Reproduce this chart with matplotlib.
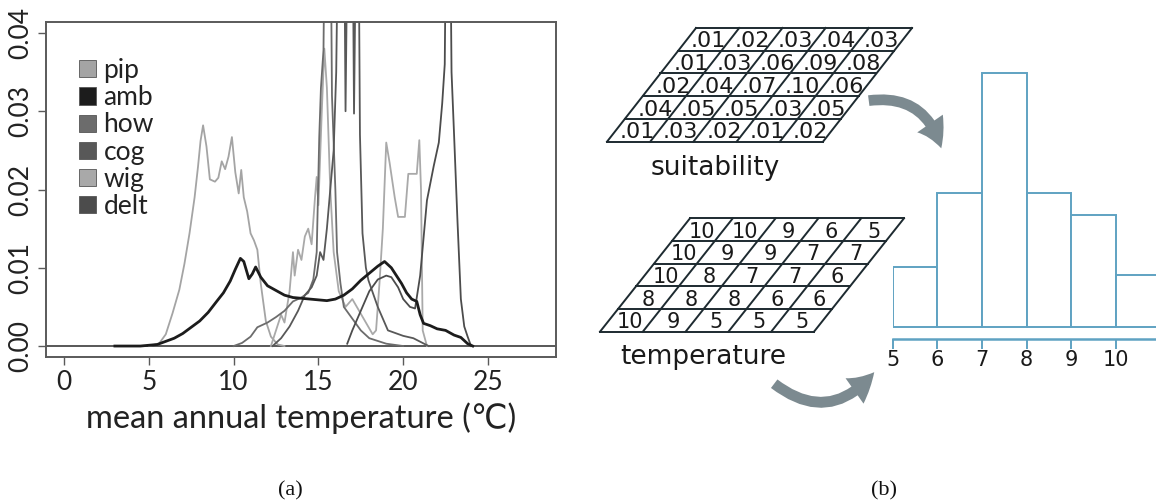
import matplotlib

matplotlib.use("Agg")
import matplotlib.pyplot as plt
import numpy as np
from matplotlib.patches import FancyArrowPatch, Patch

W, H = 1156, 504
SANS = ["Lato", "DejaVu Sans"]

# ---- panel (a): density of mean annual temperature per species ----
PIP_T = [5.0, 5.6, 6.0, 6.4, 6.8, 7.1, 7.4, 7.7, 7.9, 8.05, 8.2, 8.4, 8.6, 8.9, 9.1,
         9.3, 9.5, 9.7, 9.9, 10.1, 10.3, 10.45, 10.6, 10.8, 11.0, 11.2, 11.4, 11.6,
         11.9, 12.2, 12.6, 13.0]
PIP_V = [0.0, 0.0003, 0.0015, 0.0042, 0.0072, 0.0105, 0.0144, 0.019, 0.0229, 0.0262,
         0.0282, 0.0255, 0.0213, 0.0210, 0.0215, 0.0236, 0.0226, 0.0242, 0.0267, 0.0222,
         0.0195, 0.0225, 0.0190, 0.0172, 0.0144, 0.0135, 0.0123, 0.0080, 0.0032, 0.0012,
         0.0002, 0.0]

AMB_T = [3.0, 4.5, 5.5, 6.0, 6.5, 7.0, 7.5, 8.0, 8.5, 9.0, 9.4, 9.8, 10.1, 10.4, 10.6,
         10.9, 11.1, 11.3, 11.6, 12.0, 12.5, 13.0, 13.5, 14.0, 14.5, 15.0, 15.5, 16.0,
         16.5, 17.0, 17.5, 18.0, 18.5, 18.9, 19.3, 19.6, 19.9, 20.2, 20.5, 20.8, 21.0,
         21.2, 21.6, 22.0, 22.5, 23.0, 23.4, 23.8, 24.1]
AMB_V = [0.0, 0.0, 0.0002, 0.0006, 0.0010, 0.0016, 0.0024, 0.0032, 0.0043, 0.0057,
         0.0068, 0.0083, 0.0098, 0.0112, 0.0108, 0.0086, 0.0092, 0.0101, 0.0088, 0.0077,
         0.0071, 0.0065, 0.0062, 0.0061, 0.0060, 0.0059, 0.0058, 0.0060, 0.0065, 0.0073,
         0.0084, 0.0093, 0.0102, 0.0108, 0.0100, 0.0090, 0.0080, 0.0068, 0.0060, 0.0057,
         0.0040, 0.0029, 0.0026, 0.0022, 0.0020, 0.0014, 0.0011, 0.0003, 0.0]

HOW_T = [10.0, 10.5, 11.0, 11.4, 12.0, 12.5, 13.0, 13.5, 14.0, 14.4, 14.7, 14.9, 15.05,
         15.15, 15.3, 15.4, 15.7, 15.8, 15.9, 16.0, 16.1, 16.3, 16.5, 17.0, 17.5, 18.0,
         19.0, 20.0]
HOW_V = [0.0, 0.0004, 0.0012, 0.0024, 0.0030, 0.0037, 0.0045, 0.0057, 0.0062, 0.0068,
         0.0085, 0.0120, 0.0267, 0.0330, 0.0378, 0.0600, 0.0600, 0.0320, 0.0260, 0.0200,
         0.0120, 0.0080, 0.0050, 0.0035, 0.0020, 0.0010, 0.0003, 0.0]

COG_T = [12.3, 12.8, 13.3, 13.8, 14.2, 14.6, 14.9, 15.1, 15.3, 15.5, 15.7, 15.9, 16.05,
         16.2, 16.5, 16.6, 16.75, 17.0, 17.1, 17.25, 17.35, 17.45, 17.6, 17.8, 17.95,
         18.5, 19.1, 20.0, 20.6, 21.5]
COG_V = [0.0, 0.0010, 0.0025, 0.0045, 0.0065, 0.0075, 0.0090, 0.0120, 0.0110, 0.0150,
         0.0200, 0.0250, 0.0350, 0.0600, 0.0600, 0.0300, 0.0600, 0.0600, 0.0297, 0.0600,
         0.0600, 0.0270, 0.0144, 0.0100, 0.0084, 0.0050, 0.0020, 0.0013, 0.0010, 0.0]

WIG_T = [12.2, 12.5, 12.8, 13.0, 13.3, 13.5, 13.6, 13.8, 14.0, 14.2, 14.4, 14.6, 14.8,
         14.9, 15.0, 15.2, 15.35, 15.5, 15.7, 15.9, 16.2, 16.6, 17.0, 17.4, 17.8, 18.2,
         18.4, 18.6, 18.8, 19.0, 19.2, 19.5, 19.7, 20.1, 20.3, 20.8, 20.95, 21.05, 21.15,
         21.4]
WIG_V = [0.0, 0.0020, 0.0040, 0.0030, 0.0070, 0.0120, 0.0090, 0.0123, 0.0110, 0.0140,
         0.0150, 0.0130, 0.0190, 0.0216, 0.0180, 0.0300, 0.0380, 0.0330, 0.0200, 0.0120,
         0.0070, 0.0050, 0.0060, 0.0045, 0.0030, 0.0015, 0.0020, 0.0080, 0.0150, 0.0260,
         0.0234, 0.0190, 0.0165, 0.0165, 0.0220, 0.0220, 0.0263, 0.0200, 0.0020, 0.0]

DELT_T = [16.7, 17.0, 17.5, 18.0, 18.5, 19.0, 19.3, 19.7, 20.0, 20.4, 20.7, 21.0, 21.4,
          21.8, 22.1, 22.3, 22.45, 22.55, 22.75, 22.85, 23.0, 23.2, 23.4, 23.6, 23.8, 24.0]
DELT_V = [0.0003, 0.0020, 0.0045, 0.0070, 0.0085, 0.0090, 0.0088, 0.0075, 0.0060, 0.0050,
          0.0048, 0.0090, 0.0186, 0.0230, 0.0260, 0.0310, 0.0360, 0.0600, 0.0600, 0.0350,
          0.0270, 0.0160, 0.0060, 0.0025, 0.0012, 0.0]

SPECIES = ["pip", "amb", "how", "cog", "wig", "delt"]
SPECIES_COLORS = {
    "pip": "#a4a4a4",
    "amb": "#1c1c1c",
    "how": "#6c6c6c",
    "cog": "#585858",
    "wig": "#a9a9a9",
    "delt": "#4c4c4c",
}
X_TICKS = [0, 5, 10, 15, 20, 25]
Y_TICKS = [0.00, 0.01, 0.02, 0.03, 0.04]

# ---- panel (b): toy grids and suitability-weighted histogram ----
SUITABILITY = [
    [0.01, 0.02, 0.03, 0.04, 0.03],
    [0.01, 0.03, 0.06, 0.09, 0.08],
    [0.02, 0.04, 0.07, 0.10, 0.06],
    [0.04, 0.05, 0.05, 0.03, 0.05],
    [0.01, 0.03, 0.02, 0.01, 0.02],
]
TEMPERATURE = [
    [10, 10, 9, 6, 5],
    [10, 9, 9, 7, 7],
    [10, 8, 7, 7, 6],
    [8, 8, 8, 6, 6],
    [10, 9, 5, 5, 5],
]
HIST_BINS = [5, 6, 7, 8, 9, 10, 11]
HIST_TICKS = [5, 6, 7, 8, 9, 10]

GRID_COLOR = "#1d2a30"
HIST_COLOR = "#5fa2c2"
ARROW_COLOR = "#7c8a90"


def fig_rect(left, top, right, bottom):
    return [left / W, 1 - bottom / H, (right - left) / W, (bottom - top) / H]


def draw_grid(ax, values, labels, x_top, x_bottom, y_top, y_bottom, cell_w, fontsize):
    n_rows, n_cols = len(values), len(values[0])
    slope = (x_top - x_bottom) / (y_bottom - y_top)
    row_h = (y_bottom - y_top) / n_rows

    def left(y):
        return x_top - (y - y_top) * slope

    for i in range(n_rows + 1):
        y = y_top + i * row_h
        ax.plot([left(y), left(y) + n_cols * cell_w], [y, y], color=GRID_COLOR, lw=1.4)
    for j in range(n_cols + 1):
        ax.plot([x_top + j * cell_w, x_bottom + j * cell_w], [y_top, y_bottom],
                color=GRID_COLOR, lw=1.4)
    for i, row in enumerate(values):
        yc = y_top + (i + 0.5) * row_h
        for j, v in enumerate(row):
            ax.text(left(yc) + (j + 0.5) * cell_w, yc, labels(v), ha="center",
                    va="center_baseline", fontsize=fontsize, color="#1a1a1a",
                    family="DejaVu Sans")


def main():
    fig = plt.figure(figsize=(W / 100, H / 100), dpi=100)

    # overlay in pixel coordinates for the schematic and captions
    ov = fig.add_axes([0, 0, 1, 1])
    ov.set_xlim(0, W)
    ov.set_ylim(H, 0)
    ov.axis("off")

    # ---- (a) ----
    ax = fig.add_axes(fig_rect(45.7, 21.7, 556, 357))
    ax.set_xlim(-1.08, 29.01)
    ax.set_ylim(-0.0014, 0.04144)
    ax.axhline(0, color="#4a4a4a", lw=1.3, zorder=1)
    curves = {
        "pip": (PIP_T, PIP_V),
        "wig": (WIG_T, WIG_V),
        "how": (HOW_T, HOW_V),
        "cog": (COG_T, COG_V),
        "delt": (DELT_T, DELT_V),
        "amb": (AMB_T, AMB_V),
    }
    for name, (t, v) in curves.items():
        ax.plot(t, v, color=SPECIES_COLORS[name], lw=2.0 if name == "amb" else 1.3,
                zorder=2)

    for side in ax.spines.values():
        side.set_color("#5a5a5a")
        side.set_linewidth(1.4)
    ax.set_xticks(X_TICKS)
    ax.set_xticklabels([str(t) for t in X_TICKS], family=SANS, fontsize=19, color="#222222")
    ax.set_yticks(Y_TICKS)
    ax.set_yticklabels([f"{v:.2f}" for v in Y_TICKS], family=SANS, fontsize=19,
                       color="#222222", rotation=90, va="center")
    ax.tick_params(direction="out", length=6, width=1.0, color="#5a5a5a", pad=3)
    ax.set_xlabel("mean annual temperature (\u2103)", family=SANS, fontsize=23.5,
                  color="#222222", labelpad=6)

    handles = [Patch(facecolor=SPECIES_COLORS[s], edgecolor="#555555", lw=0.6, label=s)
               for s in SPECIES]
    leg = ax.legend(handles=handles, loc="upper left", bbox_to_anchor=(66 / W, 1 - 45 / H),
                    bbox_transform=fig.transFigure, frameon=False, borderpad=0,
                    handlelength=0.62, handleheight=0.62, handletextpad=0.3,
                    labelspacing=0.08, prop={"family": SANS, "size": 19})
    for txt in leg.get_texts():
        txt.set_color("#222222")

    # ---- (b) ----
    draw_grid(ov, SUITABILITY, lambda v: f"{v:.2f}".lstrip("0"),
              696, 607, 28, 141.7, 43.2, 16)
    draw_grid(ov, TEMPERATURE, lambda v: str(v),
              690, 600, 218.3, 331.7, 42.8, 15)
    ov.text(715, 168, "suitability", ha="center", va="center", fontsize=19,
            color="#1a1a1a", family="DejaVu Sans")
    ov.text(703, 357, "temperature", ha="center", va="center", fontsize=19,
            color="#1a1a1a", family="DejaVu Sans")

    hx0, hx1 = 892.7, 892.7 + 6 * 44.6
    hax = fig.add_axes(fig_rect(hx0, 60, hx1, 339.3))
    scale = (327.3 - 72.7) / 0.34
    hax.set_xlim(HIST_BINS[0], HIST_BINS[-1])
    hax.set_ylim(-12 / scale, (327.3 - 60) / scale)
    hax.patch.set_alpha(0)
    counts, edges = np.histogram(np.ravel(TEMPERATURE), bins=HIST_BINS,
                                 weights=np.ravel(SUITABILITY))
    hax.bar(edges[:-1], counts, width=np.diff(edges), align="edge", facecolor="white",
            edgecolor=HIST_COLOR, lw=1.4)
    for name in ["top", "left", "right"]:
        hax.spines[name].set_visible(False)
    hax.spines["bottom"].set_color(HIST_COLOR)
    hax.spines["bottom"].set_linewidth(1.8)
    hax.set_yticks([])
    hax.set_xticks(HIST_TICKS)
    hax.set_xticklabels([str(t) for t in HIST_TICKS], fontsize=15, family="DejaVu Sans",
                        color="#1a1a1a")
    hax.tick_params(axis="x", direction="out", length=7, width=1.4, color=HIST_COLOR, pad=1)

    ov.add_patch(FancyArrowPatch((866, 101), (942, 151), connectionstyle="arc3,rad=-0.45",
                                 arrowstyle="simple,head_width=1.6,head_length=1.4,tail_width=0.55",
                                 mutation_scale=14, color=ARROW_COLOR, lw=0))
    ov.add_patch(FancyArrowPatch((772, 382), (876, 370), connectionstyle="arc3,rad=0.5",
                                 arrowstyle="simple,head_width=1.6,head_length=1.4,tail_width=0.55",
                                 mutation_scale=14, color=ARROW_COLOR, lw=0))

    ov.text(290, 491, "(a)", ha="center", va="center", fontsize=16,
            family="Liberation Serif", color="#111111")
    ov.text(884, 491, "(b)", ha="center", va="center", fontsize=16,
            family="Liberation Serif", color="#111111")

    fig.savefig("out.png", dpi=100)
    plt.close(fig)


if __name__ == "__main__":
    main()
